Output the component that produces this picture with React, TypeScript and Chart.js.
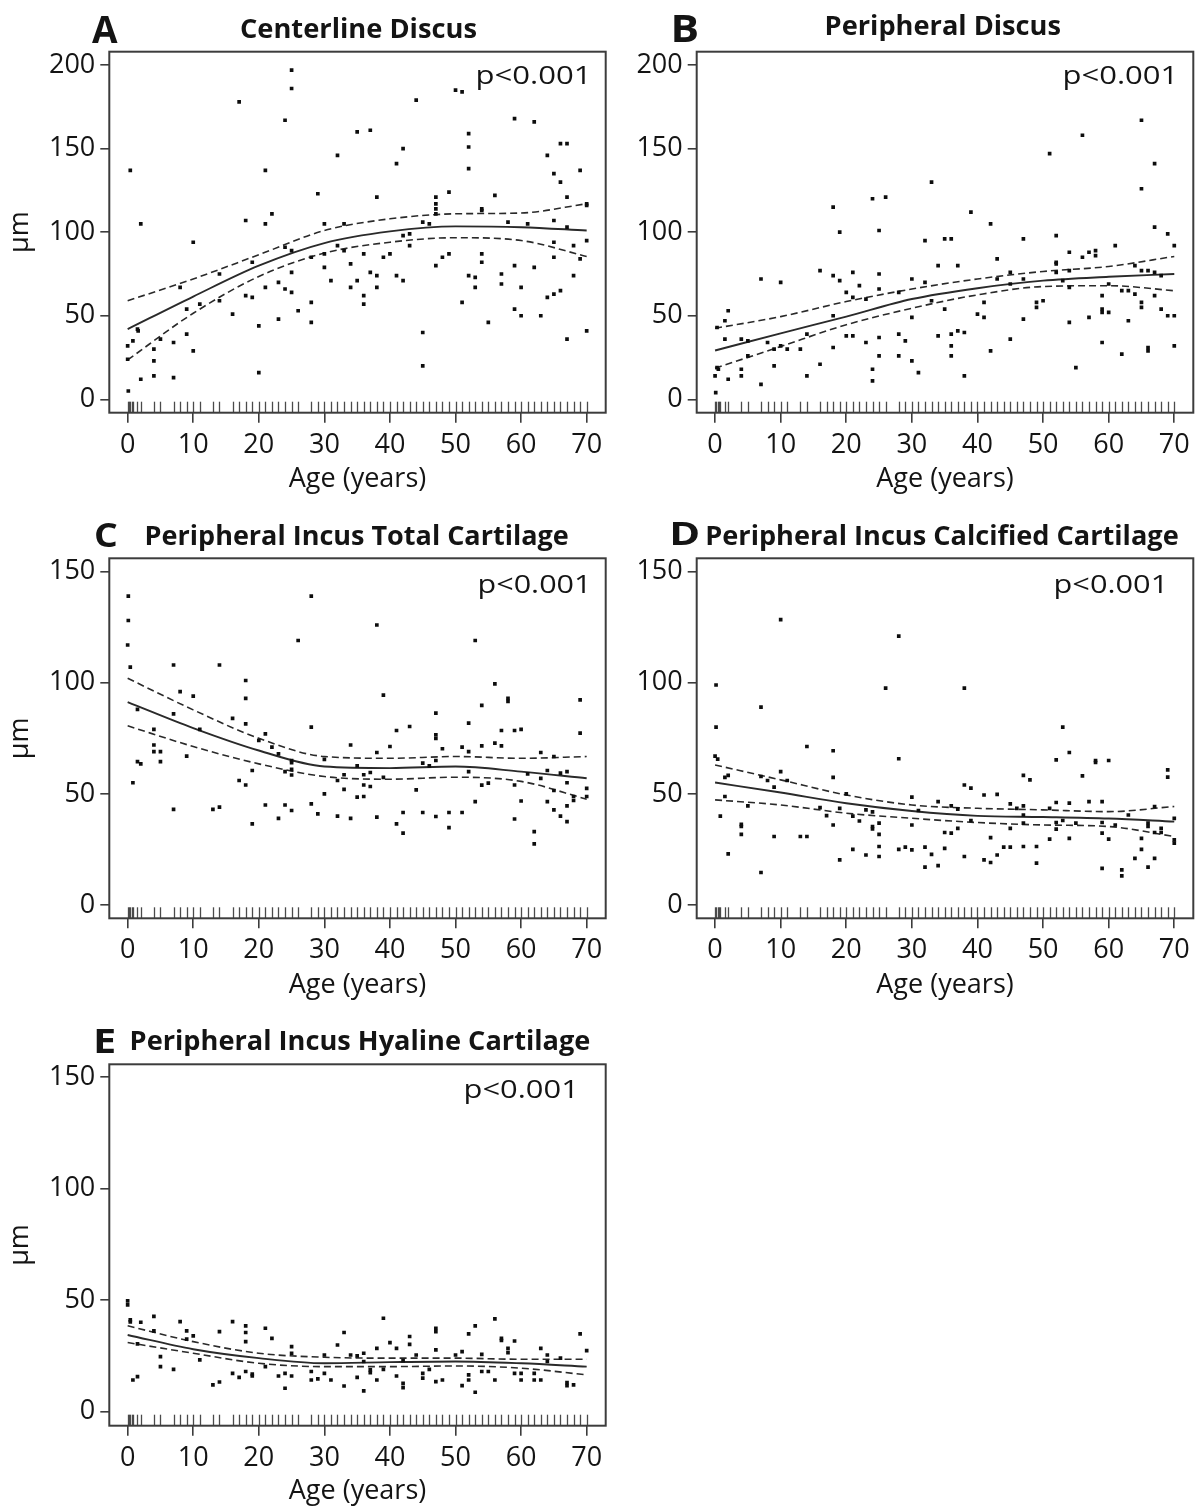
import React, { useEffect, useRef } from "react";
import { Chart, registerables } from "chart.js";

Chart.register(...registerables);

// ---------- shared labels / ticks ----------
const X_TITLE = "Age (years)";
const Y_TITLE = "µm";
const P_TEXT = "p<0.001";
const X_TICKS = [0, 10, 20, 30, 40, 50, 60, 70];
const Y_TICKS_AB = [0, 50, 100, 150, 200];
const Y_TICKS_CDE = [0, 50, 100, 150];
const FIT_AGES = [0, 10, 20, 30, 40, 50, 60, 70];
const RUG_AGES = [
  0, 0.2, 0.4, 0.6, 0.8, 1.5, 2, 4, 5, 7, 8, 9, 10, 11, 13, 14, 16, 17, 18, 19, 20, 21, 22, 23, 24, 25, 26,
  28, 29, 30, 31, 32, 33, 34, 35, 36, 37, 38, 39, 40, 41, 42, 43, 44, 45, 46, 47, 48, 49, 50, 51, 52, 53,
  54, 55, 56, 57, 58, 59, 60, 61, 62, 63, 64, 65, 66, 67, 68, 69, 70,
];

// ---------- A: Centerline Discus ----------
const A_TITLE = "Centerline Discus";
const A_POINTS: [number, number][] = [
  [0.4, 137], [2, 105], [0, 32], [0.8, 35], [0, 24], [0.1, 5], [1.5, 42], [1.6, 41], [2, 12], [4, 30], [4, 23],
  [4, 14], [5, 36], [7, 34], [7, 13], [8, 67], [9, 39], [9, 54], [10, 94], [10, 29], [11, 57], [14, 75], [14, 59],
  [16, 51], [17, 178], [18, 107], [18, 62], [19, 61], [19, 82], [20, 44], [20, 16], [21, 137], [21, 105], [21, 67],
  [22, 111], [23, 70], [23, 48], [24, 167], [24, 91], [24, 66], [25, 197], [25, 186], [25, 89], [25, 76], [25, 64],
  [26, 53], [28, 58], [28, 46], [28, 85], [29, 123], [30, 105], [30, 87], [30, 79], [31, 71], [32, 146], [32, 92],
  [33, 105], [33, 89], [34, 81], [34, 67], [35, 160], [35, 71], [36, 87], [36, 62], [36, 57], [37, 161], [37, 76],
  [38, 121], [38, 74], [38, 67], [39, 85], [40, 87], [41, 141], [41, 74], [42, 150], [42, 98], [42, 71], [43, 99],
  [43, 92], [44, 179], [45, 106], [45, 40], [45, 20], [46, 105], [47, 121], [47, 117], [47, 114], [47, 111],
  [47, 80], [48, 85], [49, 124], [49, 87], [50, 185], [51, 184], [51, 58], [52, 159], [52, 151], [52, 138],
  [52, 74], [53, 73], [53, 67], [54, 114], [54, 113], [54, 87], [54, 82], [55, 46], [56, 122], [57, 75], [57, 69],
  [58, 106], [59, 168], [59, 80], [59, 54], [60, 67], [60, 50], [61, 105], [62, 166], [62, 79], [63, 50], [64, 146],
  [64, 61], [65, 135], [65, 107], [65, 94], [65, 85], [65, 63], [66, 153], [66, 130], [66, 65], [67, 153],
  [67, 121], [67, 103], [67, 36], [68, 92], [68, 74], [69, 137], [69, 84], [70, 117], [70, 116], [70, 95], [70, 41],
];
const A_FIT = [42, 61.5, 80, 93.5, 100.5, 103.5, 103, 101];
const A_UPPER = [59, 72, 86.5, 101, 108, 111, 111.5, 117];
const A_LOWER = [23.6, 51.5, 73.5, 87.5, 94, 96.7, 95, 85.5];

// ---------- B: Peripheral Discus ----------
const B_TITLE = "Peripheral Discus";
const B_POINTS: [number, number][] = [
  [0.1, 4], [0, 14], [0.3, 19], [0.5, 18], [0.3, 43], [1.5, 47], [1.5, 36], [2, 53], [2, 12], [4, 36], [4, 18],
  [4, 14], [5, 26], [5, 35], [7, 72], [7, 9], [8, 34], [9, 30], [9, 20], [10, 70], [10, 32], [11, 30], [13, 30],
  [14, 14], [14, 39], [16, 77], [16, 21], [18, 115], [18, 74], [18, 50], [18, 31], [19, 100], [19, 71], [20, 64],
  [20, 38], [21, 76], [21, 61], [21, 38], [22, 68], [23, 60], [23, 34], [24, 120], [24, 18], [24, 11], [25, 101],
  [25, 75], [25, 66], [25, 37], [25, 26], [26, 121], [28, 64], [28, 39], [28, 26], [29, 35], [30, 72], [30, 49],
  [30, 23], [31, 16], [32, 95], [32, 70], [33, 130], [33, 59], [34, 80], [34, 38], [35, 96], [35, 54], [36, 96],
  [36, 39], [36, 32], [36, 26], [37, 80], [37, 41], [38, 40], [38, 14], [39, 112], [40, 51], [41, 49], [41, 58],
  [42, 105], [42, 29], [43, 84], [43, 72], [45, 76], [45, 69], [45, 36], [47, 96], [47, 48], [47, 72], [49, 58],
  [49, 55], [50, 59], [51, 147], [52, 98], [52, 82], [52, 81], [52, 76], [53, 71], [54, 88], [54, 77], [54, 67],
  [54, 46], [55, 19], [56, 158], [56, 85], [57, 88], [57, 49], [58, 89], [58, 86], [59, 62], [59, 54], [59, 52],
  [59, 34], [60, 69], [60, 52], [61, 92], [62, 65], [62, 27], [63, 65], [63, 47], [64, 80], [64, 63], [65, 167],
  [65, 126], [65, 77], [65, 58], [65, 55], [66, 77], [66, 31], [66, 29], [67, 141], [67, 103], [67, 76], [67, 62],
  [68, 74], [68, 54], [69, 99], [69, 50], [70, 92], [70, 50], [70, 32],
];
const B_FIT = [29.2, 39.5, 49.5, 60, 66.5, 71, 73.3, 75];
const B_UPPER = [42.5, 49.5, 58.5, 66, 72, 76.5, 79.5, 85.5];
const B_LOWER = [18.6, 31.6, 44.6, 54.5, 62.5, 67.5, 68, 65];

// ---------- C: Peripheral Incus Total Cartilage ----------
const C_TITLE = "Peripheral Incus Total Cartilage";
const C_POINTS: [number, number][] = [
  [0.1, 139], [0.1, 128], [0, 117], [0.4, 107], [0.8, 55], [1.5, 88], [1.5, 64.5], [2, 63.5], [4, 79], [4, 72],
  [4, 69], [5, 69], [5, 64.5], [7, 108], [7, 86], [7, 43], [8, 96], [9, 67], [10, 94], [11, 79], [13, 43], [14, 108],
  [14, 44], [16, 84], [17, 56], [18, 101], [18, 93], [18, 81.5], [18, 54], [19, 60.5], [19, 36.5], [20, 74], [21, 77],
  [21, 45], [22, 71], [23, 68], [23, 39], [24, 60], [24, 45], [25, 65], [25, 64], [25, 61], [25, 58.5], [25, 42.5],
  [26, 119], [28, 139], [28, 80], [28, 45.5], [29, 41], [30, 65.5], [30, 50], [32, 56], [32, 40], [33, 58.6],
  [33, 52], [34, 72], [34, 39], [35, 62.6], [35, 48.5], [36, 58.6], [36, 54], [36, 48.8], [37, 59.6], [37, 53.3],
  [38, 126], [38, 68.6], [38, 39.5], [39, 94.4], [39, 57.4], [40, 71.3], [41, 78.5], [41, 36.5], [42, 41.6],
  [42, 32.3], [43, 80.3], [44, 51.8], [45, 63.8], [45, 41.6], [46, 62.6], [47, 86.3], [47, 76.6], [47, 75], [47, 65],
  [47, 39.8], [48, 70.3], [49, 41.6], [49, 34.8], [51, 71], [51, 41.6], [52, 81.8], [52, 69], [52, 60], [53, 119],
  [53, 46.5], [54, 89.8], [54, 71.6], [54, 53.9], [55, 54.8], [56, 99.5], [56, 72.8], [57, 78.5], [57, 71.6],
  [58, 93], [58, 91.6], [59, 78.5], [59, 54], [59, 38.7], [60, 79], [60, 46.8], [61, 59], [62, 33], [62, 27.5],
  [63, 68.6], [63, 57], [64, 60.5], [64, 46.5], [65, 66.8], [65, 51.5], [65, 42.8], [66, 59.3], [66, 40], [67, 60],
  [67, 55], [67, 44.6], [67, 37.5], [68, 48.8], [68, 47], [69, 92.3], [69, 77.3], [70, 52.5], [70, 48.8],
];
const C_FIT = [91.3, 79.6, 69.5, 62.3, 61.6, 62.3, 60, 57];
const C_UPPER = [102, 87.8, 75, 66.8, 66, 66.8, 66, 66.8];
const C_LOWER = [80.6, 71.3, 63.5, 57.8, 56.6, 57.5, 55.6, 47.6];

// ---------- D: Peripheral Incus Calcified Cartilage ----------
const D_TITLE = "Peripheral Incus Calcified Cartilage";
const D_POINTS: [number, number][] = [
  [0.15, 99], [0.15, 80], [0, 67], [0.4, 65.6], [0.8, 40], [1.5, 57.4], [1.5, 48.8], [2, 58.3], [2, 23], [4, 36.3],
  [4, 35.3], [4, 31.8], [5, 44.6], [7, 89], [7, 57.8], [7, 14.6], [8, 56], [9, 53], [9, 30.8], [10, 128.4], [10, 60],
  [11, 56], [13, 30.8], [14, 30.8], [14, 71.3], [16, 43.8], [17, 40.2], [18, 69.4], [18, 57.4], [18, 36], [19, 43.5],
  [19, 20.3], [20, 50], [21, 40], [21, 25], [22, 37.8], [23, 42.8], [23, 22.5], [24, 35.3], [24, 34.2], [24, 41.9],
  [25, 36.8], [25, 31.8], [25, 26.3], [25, 21.8], [26, 97.6], [28, 121], [28, 65.8], [28, 25], [29, 26], [30, 48.5],
  [30, 36], [30, 24.8], [31, 42.5], [32, 26], [32, 17], [33, 22.8], [34, 46.5], [34, 17.7], [35, 32.6], [35, 25.5],
  [36, 32.3], [36, 44.6], [37, 34.5], [37, 43.1], [38, 54], [38, 21.8], [38, 97.6], [39, 52.6], [39, 38], [41, 49.5],
  [41, 20.3], [42, 30.3], [42, 19.1], [43, 49.8], [43, 22.5], [44, 26], [45, 26], [45, 34.5], [45, 45.5], [46, 43.5],
  [47, 58.3], [47, 44.6], [47, 40.5], [47, 36.8], [47, 26.3], [48, 56.3], [49, 26.3], [49, 18.8], [51, 43.5],
  [51, 29.6], [52, 65.3], [52, 46.1], [52, 37.1], [52, 34.1], [53, 80], [53, 38], [54, 68.6], [54, 45.8], [54, 30],
  [55, 36.8], [56, 58.1], [57, 46.5], [58, 65], [58, 64.1], [59, 46.5], [59, 37.1], [59, 32.3], [59, 16.5], [60, 65],
  [60, 29.6], [61, 36], [62, 15.8], [62, 13.1], [63, 40.5], [64, 21], [65, 30], [65, 25], [66, 36.8], [66, 35.3],
  [66, 17], [67, 44.3], [67, 32.6], [67, 21], [68, 34.5], [68, 32.6], [69, 60.8], [69, 57.5], [70, 39], [70, 29.3],
  [70, 27.8],
];
const D_FIT = [55.1, 50.6, 45.8, 42.3, 40.1, 39.6, 38.9, 37.5];
const D_UPPER = [63, 56.3, 49.5, 45, 43.5, 42.8, 42, 44.3];
const D_LOWER = [47.3, 45, 41.3, 39, 37.1, 36, 35.3, 30.8];

// ---------- E: Peripheral Incus Hyaline Cartilage ----------
const E_TITLE = "Peripheral Incus Hyaline Cartilage";
const E_POINTS: [number, number][] = [
  [0, 49.7], [0, 47.9], [0.4, 41.2], [0.4, 40.3], [0.8, 14.2], [1.5, 30.4], [1.5, 15.7], [2, 40.1], [4, 42.7],
  [4, 36.2], [5, 24.7], [5, 20.2], [7, 19], [8, 40.4], [9, 36.2], [9, 32.5], [10, 34], [11, 23.2], [13, 12],
  [14, 35.9], [14, 13.3], [16, 40.4], [16, 17.2], [17, 15.4], [18, 38.5], [18, 35.5], [18, 31.4], [18, 18], [19, 16.9],
  [19, 16], [21, 37.4], [21, 20.2], [22, 32.9], [23, 16], [24, 17.2], [24, 10.5], [25, 29.2], [25, 26.2], [25, 16],
  [28, 18], [28, 14.2], [29, 14.7], [30, 17.2], [30, 25.4], [31, 14.2], [32, 29.9], [33, 35.5], [33, 11.5],
  [34, 25.4], [35, 15.4], [35, 25], [36, 26.2], [36, 22.5], [36, 9.3], [37, 18.7], [37, 17.5], [38, 28.4], [38, 14.2],
  [39, 41.9], [39, 19], [40, 31], [41, 28.4], [41, 16], [42, 22.9], [42, 12.7], [42, 10.8], [43, 33.7], [43, 30.2],
  [44, 25.4], [45, 17.2], [45, 15], [46, 19], [47, 37.4], [47, 35.9], [47, 27.7], [47, 13.5], [48, 14.2], [50, 25.4],
  [51, 26.9], [51, 11.7], [52, 34.9], [52, 16.5], [52, 14.2], [53, 38.5], [53, 8.7], [54, 25.7], [54, 18], [55, 18],
  [56, 41.6], [56, 14.2], [57, 32.9], [57, 31.9], [58, 28.4], [58, 26.5], [59, 31.7], [59, 17.2], [60, 17.2],
  [60, 14.2], [62, 17.2], [62, 14.2], [63, 28.4], [63, 14.2], [64, 25.4], [64, 22.5], [66, 24], [67, 13], [67, 11.7],
  [68, 12], [69, 34.9], [70, 27.4],
];
const E_FIT = [34.4, 28, 24, 21.7, 22.2, 22.5, 21.7, 20.2];
const E_UPPER = [38.5, 31.4, 26.2, 24.4, 24, 24, 23.5, 23.5];
const E_LOWER = [31, 26.2, 21.7, 20.2, 20.2, 20.5, 19.5, 16.5];

// ---------- layout / style (page pixel coordinates) ----------
type Panel = {
  letter: string;
  title: string;
  points: [number, number][];
  fit: number[];
  upper: number[];
  lower: number[];
  yTicks: number[];
  yMin: number;
  yMax: number;
  yTitle: boolean;
  canvas: { x: number; y: number; w: number; h: number };
  box: { l: number; t: number; r: number; b: number };
  letterPos: { x1: number; x2: number; base: number; size: number };
  titlePos: { x1: number; x2: number; base: number };
  pPos: { x1: number; x2: number; base: number };
};

const PANELS: Panel[] = [
  {
    letter: "A", title: A_TITLE, points: A_POINTS, fit: A_FIT, upper: A_UPPER, lower: A_LOWER,
    yTicks: Y_TICKS_AB, yMin: -8, yMax: 208, yTitle: true,
    canvas: { x: 0, y: 0, w: 612, h: 500 },
    box: { l: 109.3, t: 51.7, r: 605.7, b: 412.7 },
    letterPos: { x1: 92, x2: 118, base: 43, size: 37 },
    titlePos: { x1: 241, x2: 476, base: 38.3 },
    pPos: { x1: 478, x2: 585, base: 83.5 },
  },
  {
    letter: "B", title: B_TITLE, points: B_POINTS, fit: B_FIT, upper: B_UPPER, lower: B_LOWER,
    yTicks: Y_TICKS_AB, yMin: -8, yMax: 208, yTitle: false,
    canvas: { x: 612, y: 0, w: 590, h: 500 },
    box: { l: 696.7, t: 51.7, r: 1193.3, b: 412.7 },
    letterPos: { x1: 674, x2: 697, base: 41.7, size: 37 },
    titlePos: { x1: 826.7, x2: 1060, base: 35 },
    pPos: { x1: 1065, x2: 1171.7, base: 84 },
  },
  {
    letter: "C", title: C_TITLE, points: C_POINTS, fit: C_FIT, upper: C_UPPER, lower: C_LOWER,
    yTicks: Y_TICKS_CDE, yMin: -6, yMax: 156, yTitle: true,
    canvas: { x: 0, y: 505, w: 612, h: 505 },
    box: { l: 109.3, t: 558.3, r: 605.7, b: 918.3 },
    letterPos: { x1: 95, x2: 117, base: 546.7, size: 34 },
    titlePos: { x1: 146.7, x2: 568.3, base: 545 },
    pPos: { x1: 480, x2: 585, base: 593.3 },
  },
  {
    letter: "D", title: D_TITLE, points: D_POINTS, fit: D_FIT, upper: D_UPPER, lower: D_LOWER,
    yTicks: Y_TICKS_CDE, yMin: -6, yMax: 156, yTitle: false,
    canvas: { x: 612, y: 505, w: 590, h: 505 },
    box: { l: 696.7, t: 558.3, r: 1193.3, b: 918.3 },
    letterPos: { x1: 671.7, x2: 698.3, base: 545, size: 33 },
    titlePos: { x1: 707.3, x2: 1178.3, base: 545 },
    pPos: { x1: 1056, x2: 1161.7, base: 593.3 },
  },
  {
    letter: "E", title: E_TITLE, points: E_POINTS, fit: E_FIT, upper: E_UPPER, lower: E_LOWER,
    yTicks: Y_TICKS_CDE, yMin: -6.3, yMax: 155.8, yTitle: true,
    canvas: { x: 0, y: 1012, w: 612, h: 496 },
    box: { l: 109.3, t: 1064.3, r: 605.7, b: 1425.7 },
    letterPos: { x1: 96.7, x2: 115, base: 1053.3, size: 34 },
    titlePos: { x1: 131.7, x2: 590, base: 1050 },
    pPos: { x1: 466, x2: 572.3, base: 1098.3 },
  },
];

const FONT = '"Open Sans", "Noto Sans", sans-serif';
const TEXT_COLOR = "#141414";
const LINE_COLOR = "#2a2a2a";
const AXIS_COLOR = "#3c3c3c";
const TICK_SIZE = 27;
const X_TITLE_OFFSET = 67; // title centre below box bottom

function drawFitted(ctx: CanvasRenderingContext2D, text: string, x1: number, x2: number, base: number, font: string) {
  ctx.save();
  ctx.font = font;
  ctx.textAlign = "left";
  ctx.textBaseline = "alphabetic";
  const m = ctx.measureText(text);
  const w = m.actualBoundingBoxLeft + m.actualBoundingBoxRight;
  const s = (x2 - x1) / w;
  ctx.translate(x1, base);
  ctx.scale(s, 1);
  ctx.fillStyle = TEXT_COLOR;
  ctx.fillText(text, m.actualBoundingBoxLeft, 0);
  ctx.restore();
}

function makeChart(canvas: HTMLCanvasElement, p: Panel) {
  const cv = p.canvas;
  const areaL = p.box.l - cv.x;
  const areaT = p.box.t - cv.y;
  const areaR = p.box.r - cv.x;
  const areaB = p.box.b - cv.y;
  const yAxisW = areaL;
  const xAxisH = cv.h - areaB;
  const lh = TICK_SIZE * 1.2;
  const xTitlePad = Math.max(0, xAxisH - lh / 2 - X_TITLE_OFFSET);

  const lineDs = (vals: number[], dashed: boolean) => ({
    data: FIT_AGES.map((x, i) => ({ x, y: vals[i] })),
    showLine: true,
    borderColor: LINE_COLOR,
    borderWidth: dashed ? 1.6 : 1.9,
    borderDash: dashed ? [7, 4] : [],
    pointRadius: 0,
    cubicInterpolationMode: "monotone" as const,
    fill: false,
  });

  const decor = {
    id: "decor",
    afterDatasetsDraw(chart: any) {
      const { ctx, chartArea: a, scales } = chart;
      ctx.save();
      ctx.strokeStyle = "#4a4a4a";
      ctx.lineWidth = 1.3;
      for (const age of RUG_AGES) {
        const px = Math.round(scales.x.getPixelForValue(age)) + 0.5;
        ctx.beginPath();
        ctx.moveTo(px, a.bottom - 11);
        ctx.lineTo(px, a.bottom);
        ctx.stroke();
      }
      ctx.restore();
    },
    afterDraw(chart: any) {
      const { ctx, chartArea: a } = chart;
      ctx.save();
      ctx.strokeStyle = AXIS_COLOR;
      ctx.lineWidth = 2;
      ctx.strokeRect(a.left, a.top, a.right - a.left, a.bottom - a.top);
      ctx.restore();
      drawFitted(ctx, p.letter, p.letterPos.x1 - cv.x, p.letterPos.x2 - cv.x, p.letterPos.base - cv.y,
        `bold ${p.letterPos.size}px ${FONT}`);
      drawFitted(ctx, p.title, p.titlePos.x1 - cv.x, p.titlePos.x2 - cv.x, p.titlePos.base - cv.y,
        `bold 26px ${FONT}`);
      drawFitted(ctx, P_TEXT, p.pPos.x1 - cv.x, p.pPos.x2 - cv.x, p.pPos.base - cv.y, `25px ${FONT}`);
    },
  };

  const tickFont = { family: FONT, size: TICK_SIZE, lineHeight: 1.2 };

  return new Chart(canvas, {
    type: "scatter",
    data: {
      datasets: [
        {
          data: p.points.map(([x, y]) => ({ x, y })),
          pointStyle: "rect",
          pointRadius: 2.6,
          pointBackgroundColor: "#0d0d0d",
          pointBorderWidth: 0,
          showLine: false,
        } as any,
        lineDs(p.fit, false),
        lineDs(p.upper, true),
        lineDs(p.lower, true),
      ],
    },
    options: {
      animation: false,
      responsive: false,
      devicePixelRatio: 1,
      events: [],
      layout: { padding: { top: areaT, right: cv.w - areaR, left: 0, bottom: 0 } },
      plugins: { legend: { display: false }, tooltip: { enabled: false }, title: { display: false } },
      scales: {
        x: {
          type: "linear",
          min: -2.8,
          max: 72.9,
          afterBuildTicks: (s: any) => {
            s.ticks = X_TICKS.map((v) => ({ value: v }));
          },
          afterFit: (s: any) => {
            s.height = xAxisH;
            s.paddingLeft = 0;
            s.paddingRight = 0;
          },
          border: { display: false },
          grid: { display: true, drawOnChartArea: false, drawTicks: true, tickLength: 10, color: AXIS_COLOR, lineWidth: 1.6 },
          ticks: { font: tickFont, color: TEXT_COLOR, padding: 6, maxRotation: 0, autoSkip: false },
          title: { display: true, text: X_TITLE, font: tickFont, color: TEXT_COLOR, padding: { top: 0, bottom: xTitlePad } },
        },
        y: {
          type: "linear",
          min: p.yMin,
          max: p.yMax,
          afterBuildTicks: (s: any) => {
            s.ticks = p.yTicks.map((v) => ({ value: v }));
          },
          afterFit: (s: any) => {
            s.width = yAxisW;
            s.paddingTop = 0;
            s.paddingBottom = 0;
          },
          border: { display: false },
          grid: { display: true, drawOnChartArea: false, drawTicks: true, tickLength: 9, color: AXIS_COLOR, lineWidth: 1.6 },
          ticks: { font: tickFont, color: TEXT_COLOR, padding: 5, autoSkip: false },
          title: { display: p.yTitle, text: Y_TITLE, font: tickFont, color: TEXT_COLOR, padding: { top: 4, bottom: 0 } },
        },
      },
    } as any,
    plugins: [decor],
  });
}

function PanelChart({ p }: { p: Panel }) {
  const ref = useRef<HTMLCanvasElement>(null);
  useEffect(() => {
    if (!ref.current) return;
    const chart = makeChart(ref.current, p);
    return () => chart.destroy();
  }, [p]);
  return (
    <canvas
      ref={ref}
      width={p.canvas.w}
      height={p.canvas.h}
      style={{ position: "absolute", left: p.canvas.x, top: p.canvas.y, width: p.canvas.w, height: p.canvas.h }}
    />
  );
}

export default function App() {
  return (
    <div style={{ position: "absolute", left: 0, top: 0, width: 1202, height: 1508, background: "#ffffff" }}>
      {PANELS.map((p) => (
        <PanelChart key={p.letter} p={p} />
      ))}
    </div>
  );
}
